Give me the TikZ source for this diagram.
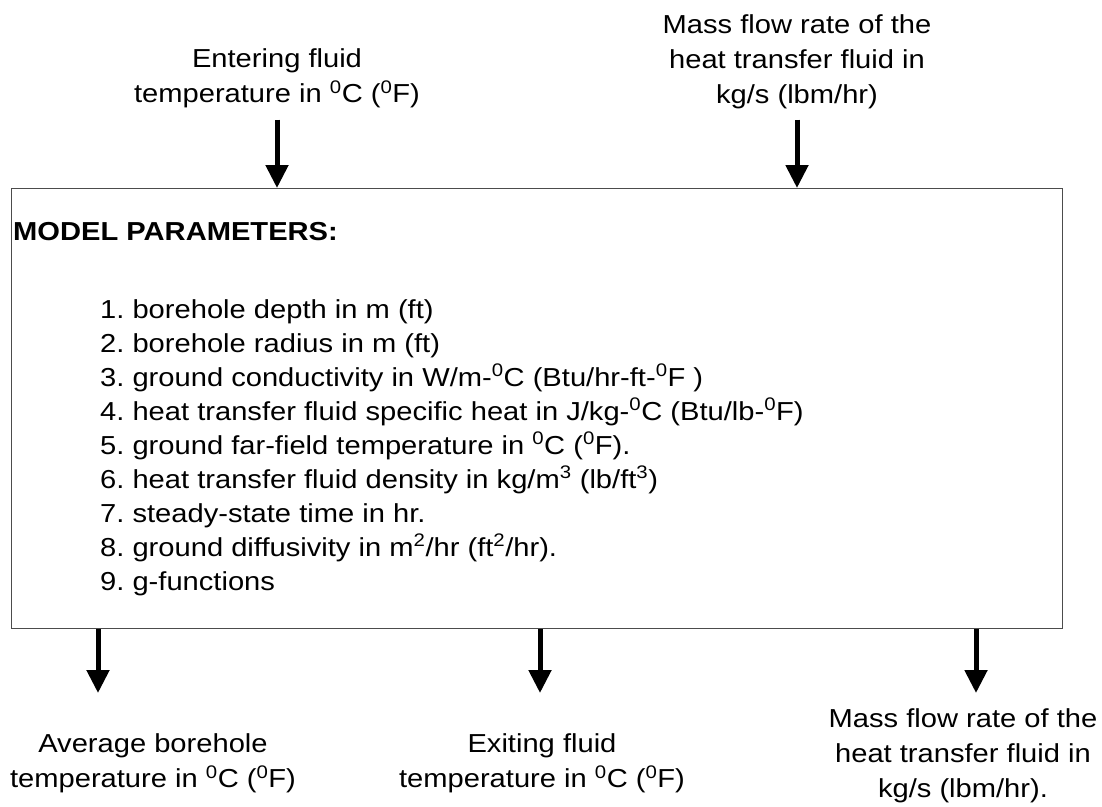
\documentclass[tikz,border=0pt]{standalone}
\usepackage{fontspec}
\setmainfont{Liberation Sans}[FakeStretch=1.12]
\usetikzlibrary{arrows.meta,positioning}
\newcommand{\dg}{\textsuperscript{0}}
\frenchspacing
\tikzset{
  lbl/.style={align=center, anchor=north, inner sep=0pt, font=\fontsize{26}{35}\selectfont},
  frame/.style={draw=black!70, line width=1.3pt, inner sep=0pt, anchor=north west},
  flow/.style={line width=5pt, -{Triangle[width=22pt,length=23pt]}},
  head/.style={anchor=base west, inner sep=0pt, font=\fontsize{26}{30}\selectfont\bfseries},
  item/.style={anchor=base west, inner sep=0pt, font=\fontsize{26}{30}\selectfont},
}
\begin{document}
\begin{tikzpicture}[x=1pt, y=1pt]
\useasboundingbox (0,0) rectangle (1102,-806);

% inputs
\node[lbl] (enter) at (277,-48) {Entering fluid\\temperature in \dg C (\dg F)};
\node[lbl] (massin) at (797,-14) {Mass flow rate of the\\heat transfer fluid in\\kg/s (lbm/hr)};

% model box
\node[frame, minimum width=1051pt, minimum height=440pt] (box) at (11,-188) {};
\node[head] (mp) at (13,-240) {MODEL PARAMETERS:};
\foreach \t [count=\i] in {
  {borehole depth in m (ft)},
  {borehole radius in m (ft)},
  {ground conductivity in W/m-\dg C (Btu/hr-ft-\dg F )},
  {heat transfer fluid specific heat in J/kg-\dg C (Btu/lb-\dg F)},
  {ground far-field temperature in \dg C (\dg F).},
  {heat transfer fluid density in kg/m\textsuperscript{3} (lb/ft\textsuperscript{3})},
  {steady-state time in hr.},
  {ground diffusivity in m\textsuperscript{2}/hr (ft\textsuperscript{2}/hr).},
  {g-functions}}
{
  \node[item] (p\i) at (100,-318-34*\i+34) {\i. \t};
}

% outputs
\node[lbl] (avgbh) at (153,-733) {Average borehole\\temperature in \dg C (\dg F)};
\node[lbl] (exit) at (542,-733) {Exiting fluid\\temperature in \dg C (\dg F)};
\node[lbl] (massout) at (963,-708) {Mass flow rate of the\\heat transfer fluid in\\kg/s (lbm/hr).};

\coordinate[right=87pt of box.south west] (out1);
\coordinate[right=529pt of box.south west] (out2);
\coordinate[right=965pt of box.south west] (out3);

\draw[flow, shorten <=12pt] (enter.south) -- (enter.south |- box.north);
\draw[flow, shorten <=11pt] (massin.south) -- (massin.south |- box.north);
\draw[flow, shorten >=40pt] (out1) -- (out1 |- avgbh.north);
\draw[flow, shorten >=40pt] (out2) -- (out2 |- exit.north);
\draw[flow, shorten >=15pt] (out3) -- (out3 |- massout.north);
\end{tikzpicture}
\end{document}
